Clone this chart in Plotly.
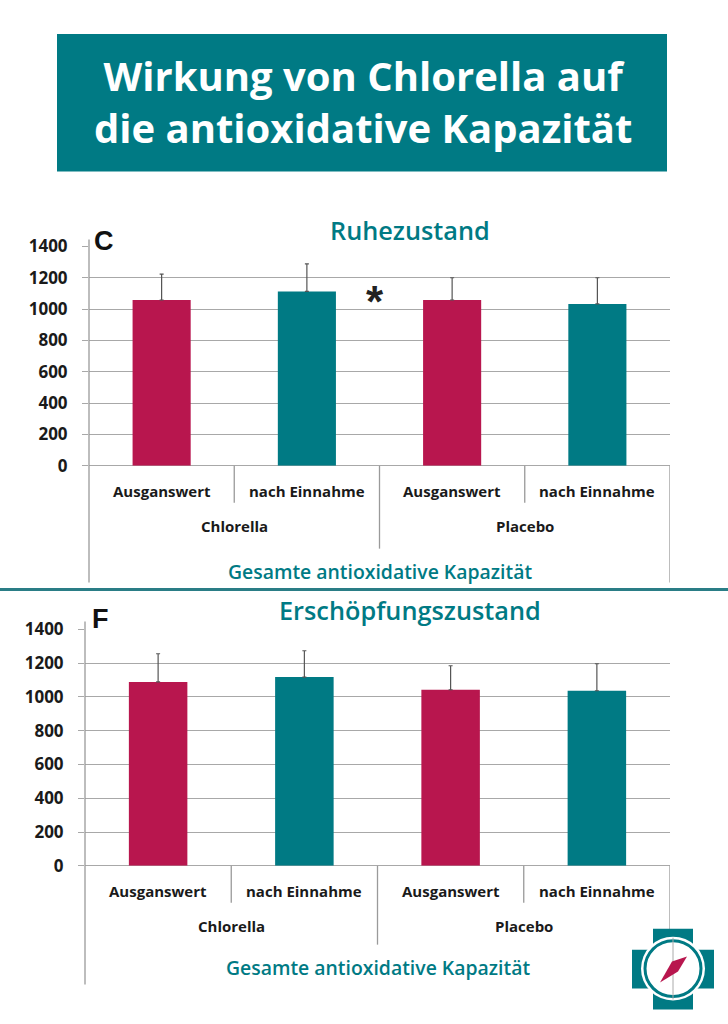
import plotly.graph_objects as go

# ---- data ----
groups = ["Chlorella", "Chlorella", "Placebo", "Placebo"]
subs = ["Ausganswert", "nach Einnahme", "Ausganswert", "nach Einnahme"]
group_names = ["Chlorella", "Placebo"]
rest_mean = [1058, 1113, 1058, 1033]
rest_sd = [165, 175, 142, 167]
exh_mean = [1089, 1118, 1043, 1037]
exh_sd = [167, 156, 142, 160]
y_ticks = [0, 200, 400, 600, 800, 1000, 1200, 1400]

W, H = 728, 1024
TEAL = "#007A84"
RED = "#B8164E"
GRAY = "#9a9a9a"
FONT = "Open Sans"

# empirical compensation of the capture's vertical mapping
Y_OFF, Y_SCALE = 10.0, 0.98

def px(x):
    return x / W

def py(y):
    return 1 - ((y - Y_OFF) / Y_SCALE) / H

keys = [f"{g} {s}" for g, s in zip(groups, subs)]
colors = [RED, TEAL, RED, TEAL]

fig = go.Figure()

panels = [
    dict(mean=rest_mean, sd=rest_sd, xa="x", ya="y", xdom=(89, 670), ydom=(465, 245),
         title="Ruhezustand", title_y=229, letter="C", letter_xy=(104, 240),
         sub_y=490, grp_y=525, cap_y=571, left_top=238, bottom=582, sub_bot=502, grp_bot=548),
    dict(mean=exh_mean, sd=exh_sd, xa="x2", ya="y2", xdom=(85, 670), ydom=(866, 629),
         title="Erschöpfungszustand", title_y=610, letter="F", letter_xy=(100, 619),
         sub_y=891, grp_y=926, cap_y=968, left_top=621, bottom=985, sub_bot=903, grp_bot=945),
]

shapes = []
annotations = []

def ann(**kw):
    kw.setdefault("showarrow", False)
    kw.setdefault("xanchor", "center")
    kw.setdefault("yanchor", "middle")
    annotations.append(kw)

for p in panels:
    fig.add_trace(go.Bar(
        x=keys, y=p["mean"], marker=dict(color=colors, line=dict(width=0)), width=0.4,
        error_y=dict(type="data", symmetric=False, array=p["sd"], arrayminus=[0] * len(p["sd"]),
                     color="#555555", thickness=1.2, width=2),
        xaxis=p["xa"], yaxis=p["ya"], showlegend=False, hoverinfo="skip",
    ))
    xref = p["xa"]
    shapes.append(dict(type="line", xref="paper", yref="paper", x0=px(p["xdom"][0]), x1=px(p["xdom"][0]),
                       y0=py(p["left_top"]), y1=py(p["bottom"]), line=dict(color=GRAY, width=1.3)))
    shapes.append(dict(type="line", xref=xref, yref="paper", x0=3.5, x1=3.5,
                       y0=py(p["ydom"][0]), y1=py(p["bottom"]), line=dict(color=GRAY, width=1.3)))
    for xb in [0.5, 2.5]:
        shapes.append(dict(type="line", xref=xref, yref="paper", x0=xb, x1=xb,
                           y0=py(p["ydom"][0]), y1=py(p["sub_bot"]), line=dict(color=GRAY, width=1.3)))
    shapes.append(dict(type="line", xref=xref, yref="paper", x0=1.5, x1=1.5,
                       y0=py(p["ydom"][0]), y1=py(p["grp_bot"]), line=dict(color=GRAY, width=1.3)))
    for i, s in enumerate(subs):
        ann(x=i, y=py(p["sub_y"]), xref=xref, yref="paper", text=f"<b>{s}</b>",
            font=dict(family=FONT, size=15, color="#1a1a1a"))
    for j, g in enumerate(group_names):
        ann(x=0.5 + 2 * j, y=py(p["grp_y"]), xref=xref, yref="paper", text=f"<b>{g}</b>",
            font=dict(family=FONT, size=15, color="#1a1a1a"))
    ann(x=1.5, y=py(p["cap_y"]), xref=xref, yref="paper", text="Gesamte antioxidative Kapazität",
        font=dict(family=FONT, size=19.4, color=TEAL, weight=600))
    ann(x=px(410), y=py(p["title_y"]), xref="paper", yref="paper", text=p["title"],
        font=dict(family=FONT, size=25.3, color=TEAL, weight=600))
    ann(x=px(p["letter_xy"][0]), y=py(p["letter_xy"][1]), xref="paper", yref="paper",
        text="<b>" + p["letter"] + "</b>", font=dict(family="Liberation Sans", size=27, color="#111111"))

# significance star
ann(x=px(375), y=py(300), xref="paper", yref="paper", text="<b>*</b>",
    font=dict(family="Liberation Sans", size=44, color="#222222"))

# header box and title
shapes.append(dict(type="rect", xref="paper", yref="paper", x0=px(57), x1=px(667), y0=py(170), y1=py(32),
                   fillcolor=TEAL, line=dict(width=0), layer="below"))
ann(x=px(363), y=py(100), xref="paper", yref="paper",
    text="<b>Wirkung von Chlorella auf<br>die antioxidative Kapazität</b>",
    font=dict(family=FONT, size=40, color="white"))

# separator line
shapes.append(dict(type="line", xref="paper", yref="paper", x0=0, x1=1, y0=py(589), y1=py(589),
                   line=dict(color="#2a7d86", width=3)))

# logo
shapes += [
    dict(type="rect", xref="paper", yref="paper", x0=px(653), x1=px(693), y0=py(1010), y1=py(929),
         fillcolor=TEAL, line=dict(width=0)),
    dict(type="rect", xref="paper", yref="paper", x0=px(632), x1=px(714), y0=py(989), y1=py(950),
         fillcolor=TEAL, line=dict(width=0)),
    dict(type="circle", xref="paper", yref="paper", x0=px(641), x1=px(705), y0=py(1001), y1=py(937),
         fillcolor="white", line=dict(width=0)),
    dict(type="circle", xref="paper", yref="paper", x0=px(645), x1=px(701), y0=py(997), y1=py(941),
         fillcolor="white", line=dict(color=TEAL, width=3)),
    dict(type="line", xref="paper", yref="paper", x0=px(673), x1=px(673), y0=py(1000), y1=py(938),
         line=dict(color="#aaaaaa", width=1)),
    dict(type="path", xref="paper", yref="paper",
         path=f"M {px(660)} {py(983)} L {px(672)} {py(962)} L {px(687)} {py(957)} L {px(678)} {py(972)} Z",
         fillcolor=RED, line=dict(width=0)),
]

axis_common = dict(range=[0, 1400], tickvals=y_ticks, showgrid=True, gridcolor="#a8a8a8", gridwidth=1.2,
                   ticks="outside", ticklen=6, tickcolor="#a8a8a8", zeroline=True, zerolinecolor="#a8a8a8",
                   zerolinewidth=1.2, showline=False, ticklabelstandoff=11,
                   tickfont=dict(family=FONT, size=17, color="#1a1a1a", weight="bold"))
xcommon = dict(type="category", range=[-0.5, 3.5], showticklabels=False, showgrid=False, zeroline=False,
               showline=False, ticks="")

fig.update_layout(
    width=W, height=H, margin=dict(l=0, r=0, t=0, b=0), paper_bgcolor="white", plot_bgcolor="white",
    bargap=0.6, showlegend=False,
    xaxis=dict(domain=[px(89), px(670)], anchor="y", **xcommon),
    yaxis=dict(domain=[py(465), py(245)], anchor="x", **axis_common),
    xaxis2=dict(domain=[px(85), px(670)], anchor="y2", **xcommon),
    yaxis2=dict(domain=[py(866), py(629)], anchor="x2", **axis_common),
    shapes=shapes, annotations=annotations,
)

post = ("document.body.style.margin='0';document.body.style.overflow='hidden';"
        "var d=document.getElementById('{plot_id}');d.style.position='fixed';"
        "d.style.left='0px';d.style.top='0px';")

fig.write_html("out.html", post_script=post, config={"displayModeBar": False})
